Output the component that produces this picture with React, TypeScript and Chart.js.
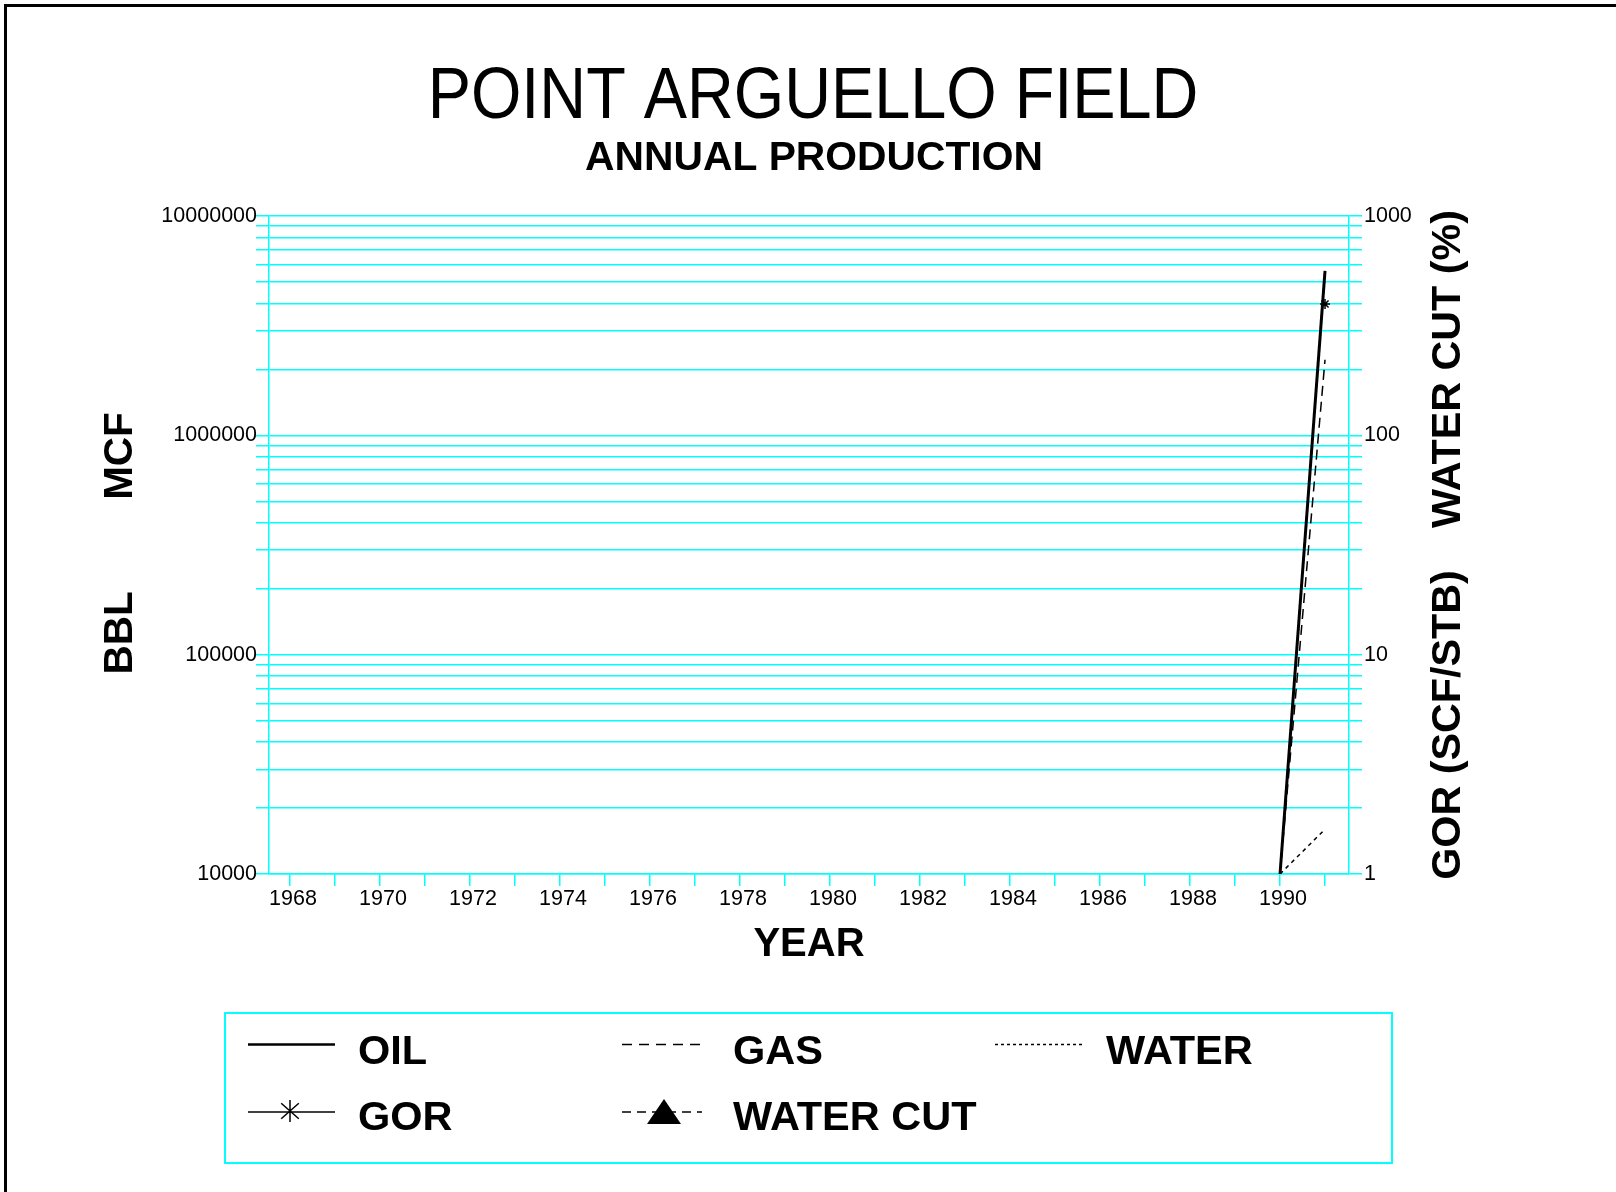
import React, { useEffect, useRef } from 'react';
import { Chart, registerables } from 'chart.js';

Chart.register(...registerables);

// ---- data ----
const years = [1990, 1991];
const oilBbl = [10000, 5620000];
const gasMcf = [10000, 2210000];
const waterBbl = [10000, 16000];
const gorScfStb: (number | null)[] = [null, 397];
const waterCutPct: (number | null)[] = [null, 0.28];

// ---- ticks ----
const leftDecades = [10000, 100000, 1000000, 10000000];
const leftTickLabels = ['10000', '100000', '1000000', '10000000'];
const rightDecades = [1, 10, 100, 1000];
const rightTickLabels = ['1', '10', '100', '1000'];
const yearTicks = [1968, 1969, 1970, 1971, 1972, 1973, 1974, 1975, 1976, 1977, 1978, 1979, 1980, 1981, 1982, 1983, 1984, 1985, 1986, 1987, 1988, 1989, 1990, 1991];
const yearLabels = ['1968', '1970', '1972', '1974', '1976', '1978', '1980', '1982', '1984', '1986', '1988', '1990'];

const CYAN = '#00FFFF';
const FONT = '"Liberation Sans", Arial, Helvetica, sans-serif';

function logTicks(decades: number[]) {
  const out: number[] = [];
  for (let i = 0; i < decades.length; i++) {
    out.push(decades[i]);
    if (i < decades.length - 1) {
      for (let m = 2; m <= 9; m++) out.push(decades[i] * m);
    }
  }
  return out;
}

const decorPlugin = {
  id: 'decor',
  beforeDraw(chart: any) {
    const ctx = chart.ctx as CanvasRenderingContext2D;
    ctx.save();
    ctx.fillStyle = '#ffffff';
    ctx.fillRect(0, 0, chart.width, chart.height);
    ctx.fillStyle = '#000000';
    ctx.fillRect(4, 4, 3, chart.height - 4);
    ctx.fillRect(4, 4, chart.width - 4, 3);
    ctx.restore();
  },
  afterDraw(chart: any) {
    const ctx = chart.ctx as CanvasRenderingContext2D;
    ctx.save();
    ctx.fillStyle = '#000';
    ctx.strokeStyle = '#000';

    // Title (slightly condensed)
    ctx.save();
    ctx.translate(813, 118);
    ctx.scale(0.9, 1);
    ctx.font = `72px ${FONT}`;
    ctx.textAlign = 'center';
    ctx.textBaseline = 'alphabetic';
    ctx.fillText('POINT ARGUELLO FIELD', 0, 0);
    ctx.restore();

    ctx.font = `bold 40.8px ${FONT}`;
    ctx.textAlign = 'center';
    ctx.textBaseline = 'alphabetic';
    ctx.fillText('ANNUAL PRODUCTION', 814, 170);

    ctx.font = `bold 40px ${FONT}`;
    ctx.fillText('YEAR', 809, 956);

    const vtext = (t: string, x: number, y: number, size: number) => {
      ctx.save();
      ctx.translate(x, y);
      ctx.rotate(-Math.PI / 2);
      ctx.textAlign = 'center';
      ctx.textBaseline = 'middle';
      ctx.font = `bold ${size}px ${FONT}`;
      ctx.fillText(t, 0, 0);
      ctx.restore();
    };
    vtext('BBL', 121, 633, 40.5);
    vtext('MCF', 121, 456, 40.5);
    vtext('WATER CUT (%)', 1449, 369, 41.3);
    vtext('GOR (SCF/STB)', 1449, 725, 41.3);

    // Legend box
    ctx.strokeStyle = CYAN;
    ctx.lineWidth = 2;
    ctx.strokeRect(225, 1013, 1167, 150);

    ctx.strokeStyle = '#000';
    const seg = (x1: number, x2: number, y: number, w: number, dash: number[]) => {
      ctx.save();
      ctx.lineWidth = w;
      ctx.setLineDash(dash);
      ctx.beginPath();
      ctx.moveTo(x1, y);
      ctx.lineTo(x2, y);
      ctx.stroke();
      ctx.restore();
    };
    const row1 = 1044.5;
    const row2 = 1112;
    seg(248, 335, row1, 2.5, []);
    seg(622, 702, row1, 1.5, [10, 7]);
    seg(995, 1082, row1, 1.5, [3, 3]);
    seg(248, 335, row2, 1.5, []);
    seg(622, 702, row2, 1.5, [9, 6]);

    // asterisk
    ctx.save();
    ctx.lineWidth = 1.5;
    ctx.beginPath();
    const ax = 290, ay = 1111, r = 11;
    ctx.moveTo(ax, ay - r); ctx.lineTo(ax, ay + r);
    ctx.moveTo(ax - r * 0.8, ay - r * 0.7); ctx.lineTo(ax + r * 0.8, ay + r * 0.7);
    ctx.moveTo(ax - r * 0.8, ay + r * 0.7); ctx.lineTo(ax + r * 0.8, ay - r * 0.7);
    ctx.stroke();
    ctx.restore();

    // triangle
    ctx.beginPath();
    ctx.moveTo(664, 1099);
    ctx.lineTo(681, 1124);
    ctx.lineTo(647, 1124);
    ctx.closePath();
    ctx.fill();

    ctx.font = `bold 41.5px ${FONT}`;
    ctx.textAlign = 'left';
    ctx.textBaseline = 'alphabetic';
    ctx.fillText('OIL', 358, 1064);
    ctx.fillText('GAS', 733, 1064);
    ctx.fillText('WATER', 1106, 1064);
    ctx.fillText('GOR', 358, 1130);
    ctx.fillText('WATER CUT', 733, 1130);

    ctx.restore();
  },
};

export default function App() {
  const canvasRef = useRef<HTMLCanvasElement | null>(null);

  useEffect(() => {
    const canvas = canvasRef.current;
    if (!canvas) return;
    const toXY = (vals: (number | null)[]) => years.map((x, i) => ({ x, y: vals[i] }));

    const chart = new Chart(canvas, {
      type: 'line',
      data: {
        datasets: [
          {
            label: 'OIL',
            data: toXY(oilBbl) as any,
            yAxisID: 'y',
            borderColor: '#000',
            borderWidth: 3,
            pointRadius: 0,
            tension: 0,
          },
          {
            label: 'GAS',
            data: toXY(gasMcf) as any,
            yAxisID: 'y',
            borderColor: '#000',
            borderWidth: 1.5,
            borderDash: [10, 6],
            pointRadius: 0,
            tension: 0,
          },
          {
            label: 'WATER',
            data: toXY(waterBbl) as any,
            yAxisID: 'y',
            borderColor: '#000',
            borderWidth: 1.5,
            borderDash: [4, 4],
            pointRadius: 0,
            tension: 0,
          },
          {
            label: 'GOR',
            data: toXY(gorScfStb) as any,
            yAxisID: 'y2',
            borderColor: '#000',
            borderWidth: 1.5,
            pointStyle: 'star',
            pointRadius: 5,
            pointBorderWidth: 1.5,
            pointBorderColor: '#000',
            tension: 0,
          },
          {
            label: 'WATER CUT',
            data: toXY(waterCutPct) as any,
            yAxisID: 'y2',
            borderColor: '#000',
            backgroundColor: '#000',
            borderWidth: 1.5,
            borderDash: [9, 6],
            pointStyle: 'triangle',
            pointRadius: 10,
            tension: 0,
          },
        ],
      },
      options: {
        animation: false,
        responsive: false,
        devicePixelRatio: 1,
        layout: { padding: { left: 149, right: 147, top: 216, bottom: 258 } },
        plugins: { legend: { display: false }, tooltip: { enabled: false }, title: { display: false } },
        scales: {
          x: {
            type: 'linear',
            min: 1967.533,
            max: 1991.533,
            afterBuildTicks: (s: any) => {
              s.ticks = yearTicks.map((v) => ({ value: v }));
            },
            afterFit: (s: any) => {
              s.height = 60;
            },
            ticks: {
              autoSkip: false,
              maxRotation: 0,
              minRotation: 0,
              padding: 0,
              labelOffset: 3,
              color: '#000',
              font: { family: FONT, size: 21.5 },
              callback: (v: any) => {
                const s = String(v);
                return yearLabels.includes(s) ? s : '';
              },
            },
            grid: { drawOnChartArea: false, drawTicks: true, tickLength: 12, color: CYAN, lineWidth: 1.5 },
            border: { color: CYAN, width: 1.5 },
          },
          y: {
            type: 'logarithmic',
            position: 'left',
            min: 10000,
            max: 10000000,
            afterBuildTicks: (s: any) => {
              s.ticks = logTicks(leftDecades).map((v) => ({ value: v }));
            },
            afterFit: (s: any) => {
              s.width = 120;
            },
            ticks: {
              autoSkip: false,
              padding: -1,
              color: '#000',
              font: { family: FONT, size: 21.5 },
              callback: (v: any) => {
                const i = leftDecades.indexOf(Number(v));
                return i >= 0 ? leftTickLabels[i] : '';
              },
            },
            grid: { color: CYAN, lineWidth: 1.5, drawTicks: true, tickLength: 13 },
            border: { color: CYAN, width: 1.5 },
          },
          y2: {
            type: 'logarithmic',
            position: 'right',
            min: 1,
            max: 1000,
            afterBuildTicks: (s: any) => {
              s.ticks = logTicks(rightDecades).map((v) => ({ value: v }));
            },
            afterFit: (s: any) => {
              s.width = 120;
            },
            ticks: {
              autoSkip: false,
              padding: 2,
              color: '#000',
              font: { family: FONT, size: 21.5 },
              callback: (v: any) => {
                const i = rightDecades.indexOf(Number(v));
                return i >= 0 ? rightTickLabels[i] : '';
              },
            },
            grid: { drawOnChartArea: false, color: CYAN, lineWidth: 1.5, drawTicks: true, tickLength: 13 },
            border: { color: CYAN, width: 1.5 },
          },
        },
      } as any,
      plugins: [decorPlugin],
    });
    return () => chart.destroy();
  }, []);

  return (
    <div style={{ position: 'absolute', left: 0, top: 0, width: 1616, height: 1192, background: '#fff' }}>
      <canvas ref={canvasRef} width={1616} height={1192} style={{ display: 'block', width: 1616, height: 1192 }} />
    </div>
  );
}
